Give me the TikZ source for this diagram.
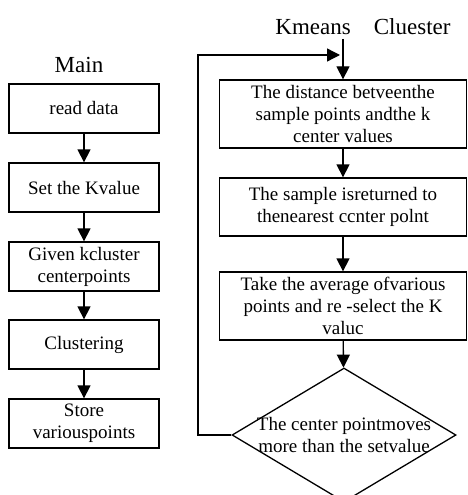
\documentclass[tikz,border=0pt]{standalone}
\usepackage{fontspec}
\setmainfont{Liberation Serif}
\usetikzlibrary{shapes.geometric,arrows.meta}

\tikzset{
    stepbox/.style={shape=rectangle, draw, line width=1.3pt, inner sep=0pt, align=center,
        font=\fontsize{19}{22}\selectfont},
    mainbox/.style={stepbox, minimum width=150pt, minimum height=49pt},
    kbox/.style={stepbox, minimum width=247pt},
    decision/.style={shape=diamond, draw, line width=1.3pt, inner sep=0pt,
        minimum width=224pt, minimum height=134pt},
    flow/.style={-{Triangle[length=13pt, width=13pt]}, line width=1.3pt},
    title/.style={font=\fontsize{23}{27}\selectfont}
}

\begin{document}
\begin{tikzpicture}[x=1pt, y=-1pt]
    \useasboundingbox (0, 0) rectangle (467, 495);

    \node (main) at (79, 65) [title] {Main};
    \node (m0) at (84, 108.5) [mainbox] {read data};
    \node (m1) at (84, 187.5) [mainbox] {Set the Kvalue};
    \node (m2) at (84, 266.5) [mainbox] {Given kcluster\\centerpoints};
    \node (m3) at (84, 344.5) [mainbox] {Clustering};
    \node (m4) at (84, 423.5) [mainbox] {Store\\variouspoints};

    \draw[flow] (m0) -- (m1);
    \draw[flow] (m1) -- (m2);
    \draw[flow] (m2) -- (m3);
    \draw[flow] (m3) -- (m4);

    \node (kmeans) at (363, 27) [title] {Kmeans\quad Cluester};
    \coordinate (kin) at (343, 39);
    \coordinate (kloop) at (340, 55);
    \coordinate (kback) at (198, 55);
    \node (k0) at (343, 114) [kbox, minimum height=68pt] {The distance betveenthe\\sample points andthe k\\center values};
    \node (k1) at (343, 207) [kbox, minimum height=58pt] {The sample isreturned to\\thenearest ccnter polnt};
    \node (k2) at (343, 306) [kbox, minimum height=68pt] {Take the average ofvarious\\points and re -select the K\\valuc};
    \node (k3) at (344, 435) [decision] {};
    \node (k3text) at (k3) [stepbox, draw=none] {The center pointmoves\\more than the setvalue};

    \draw[flow] (kin) -- (k0);
    \draw[flow] (k0) -- (k1);
    \draw[flow] (k1) -- (k2);
    \draw[flow] (k2) -- (k3);
    \draw[flow] (k3.west) -| (kback) -- (kloop);
\end{tikzpicture}
\end{document}
